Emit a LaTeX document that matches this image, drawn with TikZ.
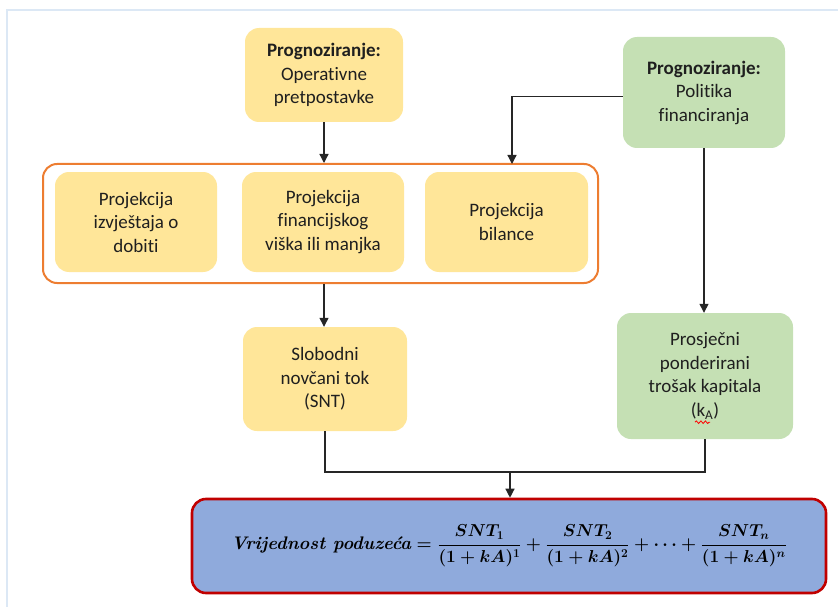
\documentclass[tikz,border=0pt]{standalone}
\usepackage{amsmath}
\usepackage{fontspec}
\setmainfont{Carlito}[Ligatures={NoCommon}]
\newfontfamily\lmr{Latin Modern Roman}
\usetikzlibrary{arrows.meta,calc,decorations.pathmorphing}
\definecolor{yfill}{HTML}{FFE699}
\definecolor{gfill}{HTML}{C5E0B4}
\definecolor{obord}{HTML}{ED7D31}
\definecolor{bfill}{HTML}{8FAADC}
\definecolor{rbord}{HTML}{C00000}
\definecolor{framecol}{HTML}{DCE8F5}
\definecolor{txt}{HTML}{1F1F1F}
\newsavebox\formbox
\tikzset{
  x=1pt, y=-1pt,
  base/.style={rounded corners=14pt, align=center, text=txt, inner sep=0pt,
    font=\fontsize{19}{23.5}\selectfont},
  ybox/.style={base, fill=yfill},
  gbox/.style={base, fill=gfill},
  grp/.style={draw=obord, line width=2pt, rounded corners=14pt, fill=white},
  formstyle/.style={draw=rbord, line width=2.6pt, fill=bfill, rounded corners=14pt},
  conn/.style={draw=black!85, line width=1.3pt},
  arr/.style={conn, -{Triangle[width=9pt,length=9pt]}},
}
\begin{document}
\sbox\formbox{\fontsize{18.2}{22}\selectfont\boldmath
  {\lmr\bfseries\itshape Vrijednost poduzeća}$\;
   =\dfrac{SNT_1}{(1+kA)^1}+\dfrac{SNT_2}{(1+kA)^2}+\cdots+\dfrac{SNT_n}{(1+kA)^n}$}%
\begin{tikzpicture}
\useasboundingbox (0,0) rectangle (838,607);
\draw[framecol, line width=2pt] (7,620) -- (7,10) -- (850,10);

\node[ybox, minimum width=158pt, minimum height=94pt] (op) at (324,75)
  {\textbf{Prognoziranje:}\\Operativne\\pretpostavke};
\node[gbox, minimum width=162pt, minimum height=111pt] (fin) at (704,92.5)
  {\textbf{Prognoziranje:}\\Politika\\financiranja};

\node[grp, minimum width=555pt, minimum height=119pt] (grp) at (320.5,223.5) {};
\node[ybox, minimum width=162pt, minimum height=100pt] (p1) at (136,222)
  {Projekcija\\izvještaja o\\dobiti};
\node[ybox, minimum width=162pt, minimum height=100pt] (p2) at (323,222)
  {Projekcija\\financijskog\\viška ili manjka};
\node[ybox, minimum width=163pt, minimum height=100pt] (p3) at (506.5,222)
  {Projekcija\\bilance};

\node[ybox, minimum width=164pt, minimum height=104pt] (snt) at (325,379)
  {Slobodni\\novčani tok\\(SNT)};
\node[gbox, minimum width=176pt, minimum height=126pt] (wacc) at (705,376)
  {Prosječni\\ponderirani\\trošak kapitala\\(k\textsubscript{A})};
\draw[red, line width=0.8pt, decorate, decoration={snake, amplitude=1.3pt, segment length=4.5pt}]
  ($(wacc.south)+(-10,-17)$) -- ($(wacc.south)+(5,-17)$);

\node[formstyle, minimum width=634pt, minimum height=94pt, inner sep=0pt] (form) at (509,546)
  {\usebox\formbox};

\coordinate (fintop) at (512,164);
\coordinate (join) at (510,472);

\draw[arr] (op.south) -- (op.south |- grp.north);
\draw[arr] ([yshift=-4pt]fin.west) -| (fintop);
\draw[arr] (fin.south) -- (fin.south |- wacc.north);
\draw[arr] (grp.south -| op.south) -- (op.south |- snt.north);
\draw[conn] (snt.south) |- (join) -| (wacc.south);
\draw[arr] (join) -- (join |- form.north);
\end{tikzpicture}
\end{document}
